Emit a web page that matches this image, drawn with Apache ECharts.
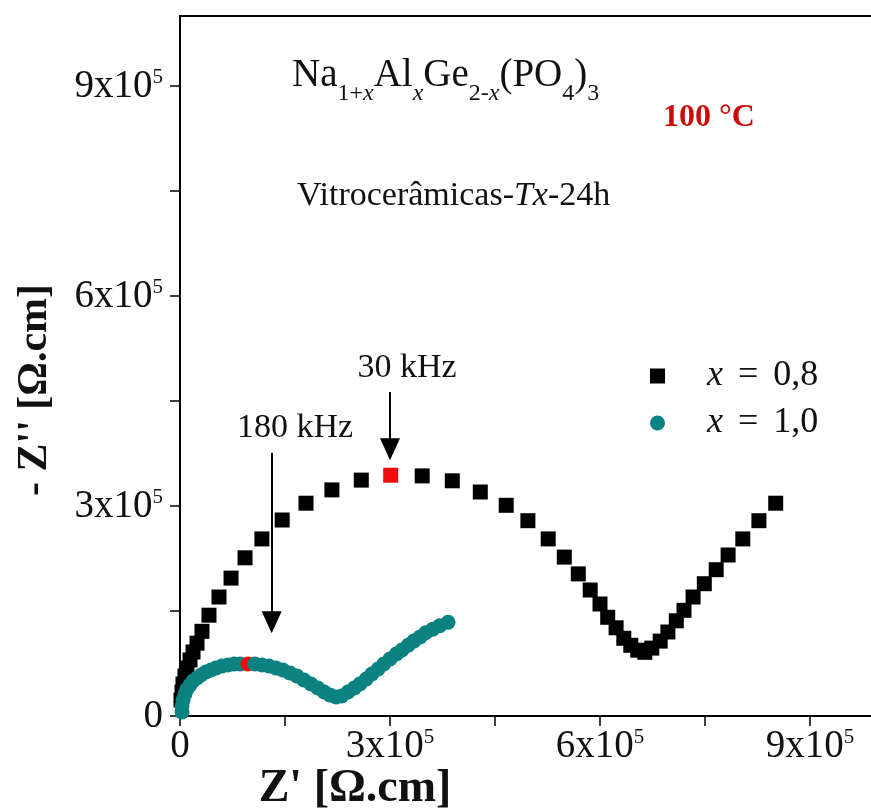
<!DOCTYPE html>
<html>
<head>
<meta charset="utf-8">
<script src="https://cdn.jsdelivr.net/npm/echarts@6/dist/echarts.min.js"></script>
<style>
  html, body { margin: 0; padding: 0; background: #fff; overflow: hidden; }
  #chart { width: 871px; height: 808px; }
</style>
</head>
<body>
<div id="chart"></div>
<script>
// Nyquist plot of Na(1+x)Al(x)Ge(2-x)(PO4)3 glass-ceramics at 100 °C
const seriesNames = ['x = 0,8', 'x = 1,0'];

// x = 0,8 : Z' and -Z'' in Ω.cm
const zReal08 = [1400, 2900, 4300, 7100, 10000, 14300, 18600, 24300, 31400, 41400,
  55700, 72900, 92900, 117000, 146000, 180000, 217000, 259000, 301000, 346000,
  389000, 429000, 466000, 497000, 526000, 549000, 569000, 586000, 600000, 611000,
  623000, 634000, 644000, 654000, 664000, 674000, 686000, 697000, 709000, 720000,
  733000, 749000, 766000, 783000, 804000, 827000, 851000];
const zImag08 = [22900, 34300, 45700, 57100, 68600, 80000, 91400, 104000, 121000, 144000,
  170000, 197000, 226000, 253000, 280000, 304000, 323000, 337000, 344000, 343000,
  336000, 320000, 301000, 279000, 253000, 227000, 203000, 180000, 160000, 141000,
  126000, 111000, 101000, 94000, 91000, 97000, 107000, 120000, 136000, 151000,
  170000, 189000, 209000, 230000, 253000, 279000, 304000];

// x = 1,0 : Z' and -Z'' in Ω.cm
const zReal10 = [2900, 2900, 4300, 7100, 10000, 14300, 18600, 24300, 30000, 37100,
  44300, 51400, 60000, 68600, 77100, 85700, 97100, 107000, 117000, 127000,
  137000, 147000, 157000, 167000, 177000, 187000, 197000, 206000, 214000, 223000,
  231000, 240000, 249000, 257000, 266000, 274000, 283000, 291000, 300000, 309000,
  317000, 326000, 334000, 343000, 351000, 361000, 371000, 383000];
const zImag10 = [5700, 14300, 22900, 31400, 38600, 44300, 50000, 54300, 58600, 62900,
  65700, 68600, 71400, 72900, 74300, 74300, 74300, 74300, 72900, 71400,
  68600, 65700, 61400, 57100, 51400, 45700, 40000, 34300, 30000, 27100,
  28600, 34300, 40000, 45700, 52900, 60000, 67100, 74300, 81400, 88600,
  94300, 101000, 107000, 113000, 119000, 124000, 129000, 134000];

// points measured at the marked frequencies
const peak08Index = 18;   // 30 kHz
const peak10Index = 16;   // 180 kHz
const freqLabels = ['30 kHz', '180 kHz'];

// frequency arrows: [x, yStart, yEnd] in Ω.cm
const arrow30k = [300000, 463000, 381000];
const arrow180k = [131000, 376000, 134000];

const tickValues = [0, 300000, 600000, 900000];
const tickLabels = ['0', '3x10^5', '6x10^5', '9x10^5'];
const minorTickValues = [0, 150000, 300000, 450000, 600000, 750000, 900000];

const serif = 'Liberation Serif, Times New Roman, serif';
const black = '#000000';
const teal = '#0a8282';
const red = '#f20d0d';

function tickFormatter(v) {
  const i = tickValues.indexOf(v);
  if (i < 0) return '';
  const t = tickLabels[i];
  if (t.indexOf('^') < 0) return '{b|' + t + '}';
  const parts = t.split('^');
  return '{b|' + parts[0] + '}{s|' + parts[1] + '}';
}

const tickRich = {
  b: { fontFamily: serif, fontSize: 39, lineHeight: 38, color: '#111', verticalAlign: 'top' },
  s: { fontFamily: serif, fontSize: 21, lineHeight: 16, color: '#111', verticalAlign: 'top' }
};

function buildPoints(xs, ys, highlight) {
  return xs.map((x, i) => {
    const item = { value: [x, ys[i]] };
    if (i === highlight) item.itemStyle = { color: red };
    return item;
  });
}

const chart = echarts.init(document.getElementById('chart'), null, { renderer: 'canvas' });

const option = {
  animation: false,
  backgroundColor: '#ffffff',
  grid: {
    left: 180, top: 16, width: 700, height: 700,
    outerBoundsMode: 'none', containLabel: false, show: false
  },
  xAxis: [
    {
      type: 'value', min: 0, max: 1000000, interval: 300000,
      axisLine: { show: true, lineStyle: { color: '#000', width: 2 } },
      axisTick: { show: true, inside: false, length: 10, customValues: minorTickValues, lineStyle: { color: '#000', width: 1.5 } },
      axisLabel: { show: true, margin: 11, customValues: tickValues, formatter: tickFormatter, rich: tickRich },
      splitLine: { show: false }
    },
    {
      // top frame line of the plot area
      type: 'value', position: 'top', min: 0, max: 1000000,
      axisLine: { show: true, lineStyle: { color: '#000', width: 2 } },
      axisTick: { show: false }, axisLabel: { show: false }, splitLine: { show: false }
    }
  ],
  yAxis: {
    type: 'value', min: 0, max: 1000000, interval: 300000,
    axisLine: { show: true, lineStyle: { color: '#000', width: 2 } },
    axisTick: { show: true, inside: false, length: 10, customValues: minorTickValues, lineStyle: { color: '#000', width: 1.5 } },
    axisLabel: { show: true, margin: 17, customValues: tickValues, formatter: tickFormatter, rich: tickRich },
    splitLine: { show: false }
  },
  legend: {
    orient: 'vertical', left: 645, top: 353, itemGap: 11,
    itemWidth: 15, itemHeight: 15,
    data: [
      { name: seriesNames[0], icon: 'rect' },
      { name: seriesNames[1], icon: 'circle' }
    ],
    formatter: function (name) {
      const rest = name.slice(1).split('=');
      return '{i|x}{t|' + rest[0] + '}{e|=}{t|' + rest[1] + '}';
    },
    textStyle: {
      padding: [0, 0, 0, 37],
      rich: {
        i: { fontFamily: serif, fontStyle: 'italic', fontSize: 36, lineHeight: 34, color: '#111' },
        t: { fontFamily: serif, fontSize: 36, lineHeight: 34, color: '#111' },
        e: { fontFamily: serif, fontSize: 36, lineHeight: 34, color: '#111', padding: [0, 6, 0, 6] }
      }
    }
  },
  series: [
    {
      name: seriesNames[0], type: 'scatter', symbol: 'rect', symbolSize: 15,
      itemStyle: { color: black, opacity: 1 },
      data: buildPoints(zReal08, zImag08, peak08Index),
      z: 2,
      markLine: {
        silent: true, animation: false,
        symbol: ['none', 'triangle'], symbolSize: [20, 22],
        lineStyle: { color: '#000', width: 2, type: 'solid' },
        label: { show: false },
        data: [
          [{ coord: [arrow30k[0], arrow30k[1]] }, { coord: [arrow30k[0], arrow30k[2]] }],
          [{ coord: [arrow180k[0], arrow180k[1]] }, { coord: [arrow180k[0], arrow180k[2]] }]
        ]
      }
    },
    {
      name: seriesNames[1], type: 'scatter', symbol: 'circle', symbolSize: 15,
      itemStyle: { color: teal, opacity: 1 },
      data: buildPoints(zReal10, zImag10, peak10Index),
      z: 3
    }
  ],
  graphic: [
    {
      type: 'text', left: 292, top: 56,
      style: {
        text: '{b|Na}{s|1+}{si|x}{b|Al}{si|x}{b|Ge}{s|2-}{si|x}{b|(PO}{s|4}{b|)}{s|3}',
        rich: {
          b: { fontFamily: serif, fontSize: 39, lineHeight: 50, verticalAlign: 'top', fill: '#111' },
          s: { fontFamily: serif, fontSize: 24, lineHeight: 24, verticalAlign: 'bottom', fill: '#111' },
          si: { fontFamily: serif, fontStyle: 'italic', fontSize: 24, lineHeight: 24, verticalAlign: 'bottom', fill: '#111' }
        }
      }
    },
    {
      type: 'text', x: 663, y: 118,
      style: {
        text: '100 °C', font: 'bold 32px ' + serif, fill: '#cc0a0a',
        textAlign: 'left', textVerticalAlign: 'middle'
      }
    },
    {
      type: 'text', x: 297, y: 196,
      style: {
        text: '{n|Vitrocerâmicas-}{i|Tx}{n|-24h}',
        textVerticalAlign: 'middle',
        rich: {
          n: { fontFamily: serif, fontSize: 34, fill: '#111' },
          i: { fontFamily: serif, fontStyle: 'italic', fontSize: 34, fill: '#111' }
        }
      }
    },
    {
      type: 'text', x: 407, y: 368,
      style: { text: freqLabels[0], font: '34px ' + serif, fill: '#111', textAlign: 'center', textVerticalAlign: 'middle' }
    },
    {
      type: 'text', x: 295, y: 428,
      style: { text: freqLabels[1], font: '34px ' + serif, fill: '#111', textAlign: 'center', textVerticalAlign: 'middle' }
    },
    {
      type: 'text', x: 355, y: 789,
      style: { text: "Z' [Ω.cm]", font: 'bold 46px ' + serif, fill: '#111', textAlign: 'center', textVerticalAlign: 'middle' }
    },
    {
      type: 'text', x: 35, y: 390, rotation: Math.PI / 2,
      style: { text: "- Z'' [Ω.cm]", font: 'bold 42px ' + serif, fill: '#111', textAlign: 'center', textVerticalAlign: 'middle' }
    }
  ]
};

chart.setOption(option);
</script>
</body>
</html>
